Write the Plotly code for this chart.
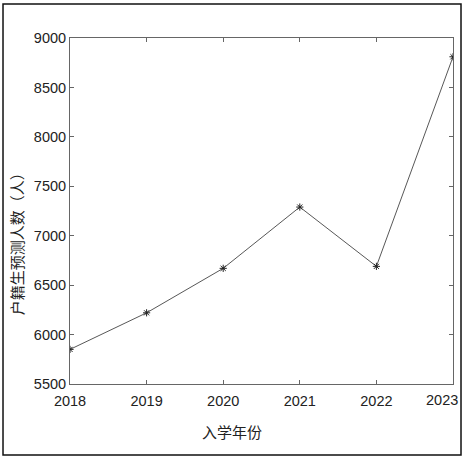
import plotly.graph_objects as go

# 入学年份与户籍生预测人数
years = [2018, 2019, 2020, 2021, 2022, 2023]
students = [5850, 6220, 6670, 7290, 6690, 8810]
y_ticks = [5500, 6000, 6500, 7000, 7500, 8000, 8500, 9000]
year_labels = [str(y) for y in years]

font_family = "Liberation Sans, Arial, Noto Sans CJK SC"
tick_font = dict(size=14.5, color="#222222")

fig = go.Figure()
fig.add_trace(go.Scatter(
    x=years, y=students, mode="lines+markers",
    line=dict(color="#444444", width=0.9),
    marker=dict(symbol="asterisk-open", size=6, color="#222222",
                line=dict(color="#222222", width=1)),
))

axis_style = dict(
    showgrid=False, zeroline=False, showline=True, linecolor="#666666",
    linewidth=1, mirror="allticks", ticks="inside", ticklen=4,
    tickcolor="#666666", tickfont=tick_font,
)

# 最后一个年份的刻度文字会超出画布，单独用注释向左挪一点
fig.update_xaxes(range=[years[0], years[-1]], tickvals=years,
                 ticktext=year_labels[:-1] + [""], ticklabelstandoff=4, **axis_style)
fig.update_yaxes(range=[y_ticks[0], y_ticks[-1]], tickvals=y_ticks,
                 ticklabelstandoff=0, **axis_style)

fig.add_annotation(text=year_labels[-1], x=years[-1], xref="x", y=0, yref="paper",
                   yanchor="top", yshift=-6, xshift=-11, showarrow=False, font=tick_font)

fig.update_layout(
    width=468, height=461,
    margin=dict(l=70, r=15, t=38, b=77),
    paper_bgcolor="white", plot_bgcolor="white",
    showlegend=False,
    font=dict(family=font_family, color="#222222"),
    shapes=[
        dict(type="rect", xref="paper", yref="paper",
             x0=-0.1749, x1=1.0209, y0=-0.2052, y1=1.0983,
             line=dict(color="#111111", width=1.5)),
    ],
)
fig.add_annotation(text="入学年份", xref="paper", yref="paper", x=0.423, y=-0.1416,
                   showarrow=False, font=dict(size=15), xanchor="center", yanchor="middle")
fig.add_annotation(text="户籍生预测人数（人）", xref="paper", yref="paper", x=-0.138, y=0.416,
                   showarrow=False, textangle=-90, font=dict(size=15),
                   xanchor="center", yanchor="middle")

# 去掉页面默认边距，让图从左上角开始
fig.write_html("out.html", config={"displayModeBar": False},
               post_script="document.body.style.margin='0';")
